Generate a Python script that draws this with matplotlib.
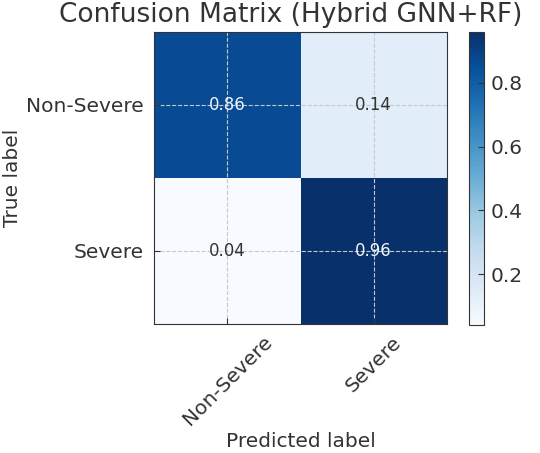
import numpy as np
import matplotlib.pyplot as plt

# Confusion matrix values (normalized)
classes = ['Non-Severe', 'Severe']
cm = np.array([[0.86, 0.14],
               [0.04, 0.96]])
cbar_ticks = [0.2, 0.4, 0.6, 0.8]

text_col = '#333333'
plt.rcParams['text.color'] = text_col
plt.rcParams['axes.labelcolor'] = text_col
plt.rcParams['xtick.color'] = text_col
plt.rcParams['ytick.color'] = text_col
plt.rcParams['axes.edgecolor'] = text_col

fig = plt.figure(figsize=(5.4, 4.53), dpi=100)
ax = fig.add_axes([154 / 540, 1 - 324 / 453, 293 / 540, 292 / 453])
cax = fig.add_axes([469 / 540, 1 - 325 / 453, 15 / 540, 293 / 453])

im = ax.imshow(cm, cmap='Blues', interpolation='nearest', aspect='auto')
cb = fig.colorbar(im, cax=cax)
cb.set_ticks(cbar_ticks)
cb.ax.tick_params(direction='in', labelsize=14.5, length=4, pad=5)
cb.outline.set_edgecolor(text_col)

ax.set_xticks(range(len(classes)))
ax.set_yticks(range(len(classes)))
ax.set_xticklabels(classes, rotation=45, fontsize=14.5, ha='center')
ax.set_yticklabels(classes, fontsize=14.5)
ax.tick_params(direction='in', length=4)
ax.tick_params(axis='y', pad=7.5)
ax.tick_params(axis='x', pad=6)
ax.grid(True, linestyle='--', color='#c8c8c8', linewidth=0.8)

thresh = cm.max() / 2.0
for i in range(cm.shape[0]):
    for j in range(cm.shape[1]):
        ax.text(j, i, f'{cm[i, j]:.2f}', ha='center', va='center', fontsize=12,
                color='#eef3fa' if cm[i, j] > thresh else text_col)

ax.set_title('Confusion Matrix (Hybrid GNN+RF)', fontsize=19, pad=7, x=0.467)
ax.set_xlabel('Predicted label', fontsize=14.5, labelpad=2)
ax.set_ylabel('True label', fontsize=14.5, labelpad=3)

fig.savefig('out.png', dpi=100)
